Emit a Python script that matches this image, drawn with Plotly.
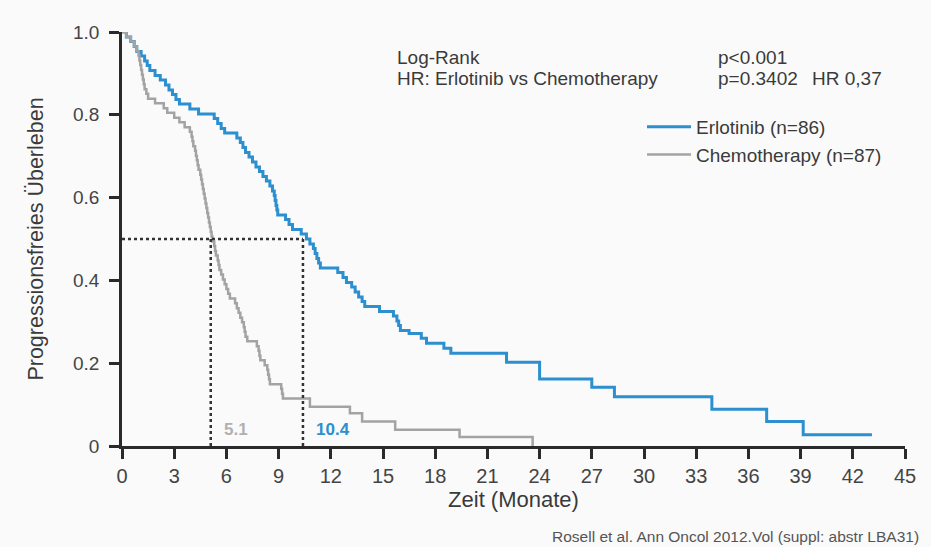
import plotly.graph_objects as go

# ---- data ----
erlotinib_t = [0, 0.25, 0.5, 0.7, 0.85, 1.1, 1.3, 1.45, 1.6, 1.9, 2.2, 2.5, 2.7, 2.9, 3.1, 3.3,
               3.9, 4.4, 5.3, 5.5, 5.7, 5.9, 6.6, 6.8, 6.95, 7.1, 7.3, 7.5, 7.7, 7.9, 8.1, 8.3,
               8.5, 8.65, 8.75, 8.8, 8.85, 8.9, 8.95, 9.4, 9.6, 9.8, 10.3, 10.6, 10.8, 11.0,
               11.1, 11.2, 11.3, 11.4, 12.4, 12.7, 12.9, 13.2, 13.4, 13.6, 13.8, 13.95, 14.8,
               15.6, 15.8, 15.9, 16.0, 16.5, 17.2, 17.5, 18.5, 18.9, 22.1, 24.0, 27.0, 28.3,
               33.9, 37.05, 39.15, 43.1]
erlotinib_s = [1.0, 0.988, 0.977, 0.965, 0.953, 0.942, 0.930, 0.919, 0.907, 0.895, 0.884, 0.872,
               0.860, 0.849, 0.837, 0.826, 0.814, 0.802, 0.791, 0.779, 0.767, 0.756, 0.744, 0.733,
               0.721, 0.709, 0.698, 0.686, 0.674, 0.663, 0.651, 0.640, 0.628, 0.616, 0.605, 0.593,
               0.581, 0.570, 0.558, 0.547, 0.535, 0.523, 0.512, 0.500, 0.488, 0.477, 0.465, 0.453,
               0.442, 0.430, 0.419, 0.407, 0.395, 0.384, 0.372, 0.360, 0.349, 0.337, 0.325, 0.314,
               0.302, 0.291, 0.279, 0.272, 0.260, 0.248, 0.236, 0.224, 0.202, 0.162, 0.142, 0.119,
               0.089, 0.059, 0.027, 0.027]

chemo_t = [0, 0.25, 0.5, 0.7, 0.85, 0.95, 1.0, 1.05, 1.1, 1.15, 1.2, 1.25, 1.3, 1.4, 1.5, 1.9,
           2.4, 2.6, 3.0, 3.3, 3.6, 3.9, 4.0, 4.05, 4.1, 4.2, 4.25, 4.3, 4.35, 4.4, 4.5, 4.55,
           4.6, 4.65, 4.7, 4.75, 4.8, 4.85, 4.9, 4.95, 5.0, 5.05, 5.1, 5.15, 5.2, 5.3, 5.35,
           5.4, 5.5, 5.55, 5.6, 5.7, 5.8, 5.9, 6.0, 6.1, 6.2, 6.5, 6.6, 6.7, 6.8, 6.9, 7.0,
           7.05, 7.1, 7.2, 7.75, 7.85, 7.9, 7.95, 8.2, 8.35, 8.4, 8.45, 8.5, 9.15, 9.2, 9.25,
           10.8, 13.1, 13.8, 15.7, 19.4, 23.6]
chemo_s = [1.0, 0.988, 0.977, 0.965, 0.954, 0.943, 0.931, 0.920, 0.908, 0.897, 0.885, 0.874,
           0.862, 0.851, 0.839, 0.828, 0.816, 0.805, 0.793, 0.782, 0.770, 0.759, 0.747, 0.736,
           0.724, 0.713, 0.701, 0.690, 0.678, 0.667, 0.655, 0.644, 0.632, 0.621, 0.609, 0.598,
           0.586, 0.575, 0.563, 0.552, 0.540, 0.529, 0.517, 0.506, 0.494, 0.483, 0.471, 0.460,
           0.448, 0.437, 0.425, 0.414, 0.402, 0.391, 0.379, 0.368, 0.356, 0.345, 0.333, 0.322,
           0.310, 0.299, 0.287, 0.276, 0.264, 0.253, 0.241, 0.230, 0.218, 0.207, 0.195, 0.184,
           0.172, 0.161, 0.149, 0.138, 0.126, 0.115, 0.095, 0.079, 0.059, 0.039, 0.022, 0.0]

median_level = 0.5
median_chemo = 5.1
median_erlotinib = 10.4

x_ticks = list(range(0, 46, 3))
y_ticks = [0, 0.2, 0.4, 0.6, 0.8, 1.0]
y_ticktext = ["0", "0.2", "0.4", "0.6", "0.8", "1.0"]

BLUE = "#2b8fd0"
GRAY = "#a3a3a3"
TXT = "#3a3a3a"
SANS = "Liberation Sans, Arial, sans-serif"

W, H = 931, 547
L, R, T, B = 122, 26, 32, 101


def px(xp):
    return (xp - L) / (W - L - R)


def py(yp):
    return (H - B - yp) / (H - T - B)


fig = go.Figure()
fig.add_trace(go.Scatter(x=erlotinib_t, y=erlotinib_s, mode="lines", line_shape="hv",
                         line=dict(color=BLUE, width=3), name="Erlotinib (n=86)",
                         legendgroup="a"))
fig.add_trace(go.Scatter(x=chemo_t, y=chemo_s, mode="lines", line_shape="hv",
                         line=dict(color=GRAY, width=2.5), name="Chemotherapy (n=87)",
                         legendgroup="b"))

dot = dict(color="#333333", width=2.5, dash="dot")
fig.add_shape(type="line", x0=0, x1=median_erlotinib, y0=median_level, y1=median_level,
              xref="x", yref="y", line=dot)
fig.add_shape(type="line", x0=median_chemo, x1=median_chemo, y0=0, y1=median_level,
              xref="x", yref="y", line=dot)
fig.add_shape(type="line", x0=median_erlotinib, x1=median_erlotinib, y0=0, y1=median_level,
              xref="x", yref="y", line=dot)

fig.add_annotation(x=median_chemo, y=0.04, xref="x", yref="y", text=f"<b>{median_chemo}</b>",
                   showarrow=False, xanchor="left", xshift=11,
                   font=dict(family=SANS, size=17, color="#b0b0b0"))
fig.add_annotation(x=median_erlotinib, y=0.04, xref="x", yref="y", text=f"<b>{median_erlotinib}</b>",
                   showarrow=False, xanchor="left", xshift=11,
                   font=dict(family=SANS, size=17, color=BLUE))

top_font = dict(family=SANS, size=19, color=TXT)
for txt, xp, yp in [("Log-Rank", 397, 58), ("HR: Erlotinib vs Chemotherapy", 397, 78),
                    ("p<0.001", 718, 58), ("p=0.3402", 718, 78), ("HR 0,37", 812, 78)]:
    fig.add_annotation(x=px(xp), y=py(yp), xref="paper", yref="paper", text=txt,
                       showarrow=False, xanchor="left", yanchor="middle", font=top_font,
                       xshift=-2)

fig.add_annotation(x=px(921), y=py(536), xref="paper", yref="paper",
                   text="Rosell et al. Ann Oncol 2012.Vol (suppl: abstr LBA31)",
                   showarrow=False, xanchor="right", yanchor="middle",
                   font=dict(family=SANS, size=15.5, color="#555555"))

fig.update_layout(
    width=W, height=H,
    margin=dict(l=L, r=R, t=T, b=B),
    paper_bgcolor="#fafafa", plot_bgcolor="#fafafa",
    showlegend=True,
    legend=dict(x=px(642), y=py(108), xanchor="left", yanchor="top",
                bgcolor="rgba(0,0,0,0)", font=dict(family=SANS, size=19, color=TXT),
                tracegroupgap=0, itemwidth=44),
    xaxis=dict(range=[0, 45], tickvals=x_ticks, showgrid=False, zeroline=False,
               showline=True, linecolor="#2a2a2a", linewidth=2.5, ticks="outside", ticklen=10,
               tickwidth=2.5, tickcolor="#2a2a2a",
               tickfont=dict(family=SANS, size=20, color="#444"),
               title=dict(text="Zeit (Monate)", standoff=6,
                          font=dict(family=SANS, size=22, color=TXT))),
    yaxis=dict(range=[0, 1.0], tickvals=y_ticks, ticktext=y_ticktext, showgrid=False,
               zeroline=False, showline=True, linecolor="#2a2a2a", linewidth=2.5,
               ticks="outside", ticklen=10, tickwidth=2.5, tickcolor="#2a2a2a",
               ticklabelstandoff=6,
               tickfont=dict(family=SANS, size=19, color="#444"),
               title=dict(text="Progressionsfreies Überleben", standoff=24,
                          font=dict(family=SANS, size=21.5, color=TXT))),
)

fig.write_html("out.html", post_script="document.body.style.margin='0';",
               config={"displayModeBar": False})
